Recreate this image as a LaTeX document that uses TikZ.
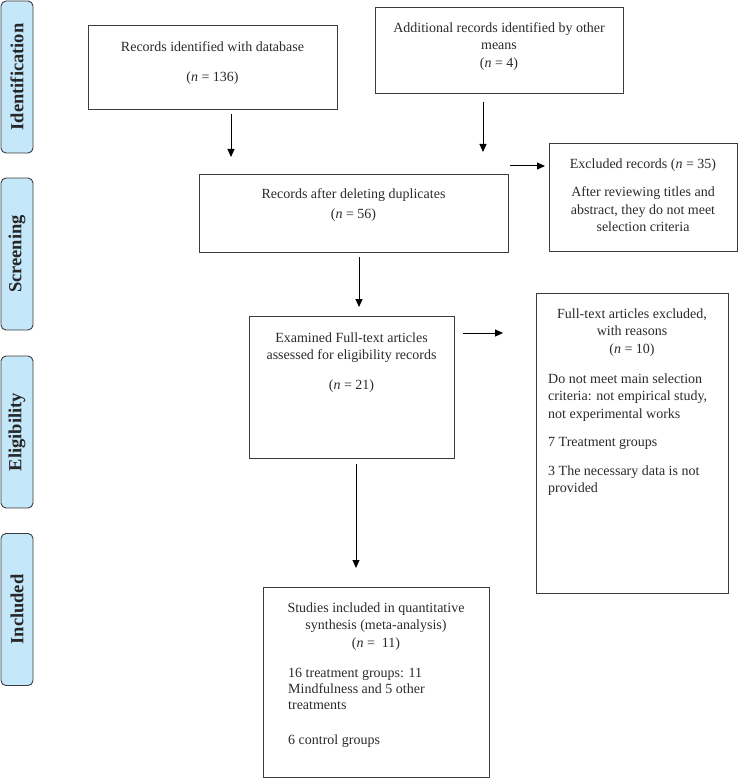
\documentclass[tikz,border=0pt]{standalone}
\usepackage{fontspec}
\setmainfont{Liberation Serif}
\usetikzlibrary{arrows.meta}
\definecolor{sidefill}{HTML}{C4E7FA}
\definecolor{sidedraw}{HTML}{3A3A3A}
\definecolor{boxdraw}{HTML}{3C3C3C}
\definecolor{txtcol}{HTML}{2A2A2A}
\begin{document}
\begin{tikzpicture}[x=1pt,y=-1pt,
 sidebox/.style={draw=sidedraw, fill=sidefill, line width=0.9pt, rounded corners=5pt, rotate=90,
   minimum width=152pt, minimum height=32pt, inner sep=0pt, text=black!85,
   font=\fontsize{18.5}{22}\selectfont\bfseries},
 box/.style={draw=boxdraw, line width=0.9pt, inner sep=0pt, outer sep=0pt},
 txt/.style={inner sep=0pt, anchor=north, align=center, text=txtcol, font=\fontsize{14}{17.5}\selectfont},
 ltxt/.style={txt, anchor=north west, align=left},
 arr/.style={-{Triangle[length=8pt,width=7pt]}, line width=1pt, black}]
\useasboundingbox (0,0) rectangle (740,778);

% stage labels
\node[sidebox] (sid) at (17,77) {Identification};
\node[sidebox] (ssc) at (17,254) {Screening};
\node[sidebox] (sel) at (17,432) {Eligibility};
\node[sidebox] (sin) at (17,609.5) {Included};

% boxes
\node[box, minimum width=249pt, minimum height=84pt] (b1) at (212.5,67) {};
\node[box, minimum width=248pt, minimum height=86pt] (b2) at (499,50) {};
\node[box, minimum width=309pt, minimum height=78pt] (b3) at (353.5,213) {};
\node[box, minimum width=188pt, minimum height=108pt] (ex) at (643,197) {};
\node[box, minimum width=205pt, minimum height=142pt] (b4) at (351.5,387) {};
\node[box, minimum width=192pt, minimum height=300pt] (ft) at (632,443) {};
\node[box, minimum width=226pt, minimum height=190pt] (b5) at (376,682) {};

% texts
\node[txt] (t1) at (212.5,38.75) {\strut Records identified with database\\[12.5pt] (\textit{n} = 136)};
\node[txt] (t2) at (499,19.75) {\strut Additional records identified by other\\ means\\ (\textit{n} = 4)};
\node[txt] (t3) at (353.5,185.75) {\strut Records after deleting duplicates\\[2.5pt] (\textit{n} = 56)};
\node[txt] (tex) at (643,155.75) {\strut Excluded records (\textit{n} = 35)\\[11pt] After reviewing titles and\\ abstract, they do not meet\\ selection criteria};
\node[txt] (t4) at (351.5,329.75) {\strut Examined Full-text articles\\ assessed for eligibility records\\[12.5pt] (\textit{n} = 21)};
\node[txt] (tfth) at (632,305.75) {\strut Full-text articles excluded,\\ with reasons\\ (\textit{n} = 10)};
\node[ltxt] (tftb) at (548,370.75) {\strut Do not meet main selection\\ criteria: not empirical study,\\ not experimental works\\[10.5pt] 7 Treatment groups\\[11.5pt] 3 The necessary data is not\\ provided};
\node[txt] (t5h) at (376,599.75) {\strut Studies included in quantitative\\ synthesis (meta-analysis)\\ (\textit{n} =\ \ 11)};
\node[ltxt] (t5b) at (288,664.75) {\strut 16 treatment groups: 11\\[-1.5pt] Mindfulness and 5 other\\[-1.5pt] treatments\\[17.5pt] 6 control groups};

% arrow end points
\coordinate (a1s) at (231,114);  \coordinate (a1e) at (231,157);
\coordinate (a2s) at (483,102);  \coordinate (a2e) at (483,152);
\coordinate (a3s) at (510,166);  \coordinate (a3e) at (545,166);
\coordinate (a4s) at (359,257);  \coordinate (a4e) at (359,307);
\coordinate (a5s) at (463,333);  \coordinate (a5e) at (503,333);
\coordinate (a6s) at (356,464);  \coordinate (a6e) at (356,568);

\draw[arr] (a1s) -- (a1e);
\draw[arr] (a2s) -- (a2e);
\draw[arr] (a3s) -- (a3e);
\draw[arr] (a4s) -- (a4e);
\draw[arr] (a5s) -- (a5e);
\draw[arr] (a6s) -- (a6e);
\end{tikzpicture}
\end{document}
